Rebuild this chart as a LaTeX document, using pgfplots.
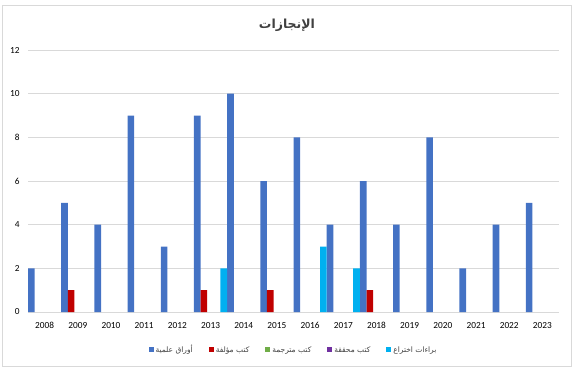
\documentclass[border=0pt]{standalone}
\usepackage{fontspec}
\setmainfont{Carlito}
\newfontfamily\arabicfont[Script=Arabic]{DejaVu Sans}
\TeXXeTstate=1
\usepackage{pgfplots}
\pgfplotsset{compat=1.18}
\definecolor{sA}{HTML}{4472C4}
\definecolor{sB}{HTML}{C00000}
\definecolor{sC}{HTML}{70AD47}
\definecolor{sD}{HTML}{7030A0}
\definecolor{sE}{HTML}{00B0F0}
\definecolor{gridc}{HTML}{D9D9D9}
\definecolor{txt}{HTML}{404040}
\begin{document}
\begin{tikzpicture}
\useasboundingbox (0pt,0pt) rectangle (575pt,368pt);
\draw[gridc, line width=0.8pt] (2pt,2pt) rectangle (571pt,363pt);
\node[font=\arabicfont\bfseries\fontsize{12.5}{15}\selectfont, text=txt] at (287pt,343pt) {\beginR الإنجازات\endR};
\begin{axis}[
  at={(28pt,56pt)}, anchor=south west,
  scale only axis, width=531pt, height=262pt,
  ybar, bar width=0.2,
  xmin=-0.5, xmax=15.5, ymin=0, ymax=12,
  xtick={0,1,2,3,4,5,6,7,8,9,10,11,12,13,14,15},
  xticklabels={2008,2009,2010,2011,2012,2013,2014,2015,2016,2017,2018,2019,2020,2021,2022,2023},
  ytick={0,2,4,6,8,10,12},
  ymajorgrids, grid style={draw=gridc, line width=0.8pt},
  axis line style={draw=none},
  major tick length=0pt,
  tick label style={font=\fontsize{9.3}{10}\selectfont, text=black},
  /pgf/number format/assume math mode=true,
  xticklabel style={yshift=-6.5pt},
  yticklabel style={xshift=-5pt},
  legend style={at={(0.5,-0.145)}, anchor=center, draw=none, fill=none,
    font=\arabicfont\fontsize{7.5}{9}\selectfont, text=txt,
    legend columns=5,
    /tikz/every even column/.append style={column sep=14pt}},
  legend cell align=left,
  legend image code/.code={\fill[#1] (0pt,-2.5pt) rectangle (5pt,2.5pt);},
]
\addplot[fill=sA, draw=none, bar shift=-0.4] coordinates {(0,2) (1,5) (2,4) (3,9) (4,3) (5,9) (6,10) (7,6) (8,8) (9,4) (10,6) (11,4) (12,8) (13,2) (14,4) (15,5)};
\addlegendentry{\beginR أوراق علمية\endR}
\addplot[fill=sB, draw=none, bar shift=-0.2] coordinates {(1,1) (5,1) (7,1) (10,1)};
\addlegendentry{\beginR كتب مؤلفة\endR}
\addlegendimage{fill=sC, draw=none}
\addlegendentry{\beginR كتب مترجمة\endR}
\addlegendimage{fill=sD, draw=none}
\addlegendentry{\beginR كتب محققة\endR}
\addplot[fill=sE, draw=none, bar shift=0.4] coordinates {(5,2) (8,3) (9,2)};
\addlegendentry{\beginR براءات اختراع\endR}
\end{axis}
\end{tikzpicture}
\end{document}
